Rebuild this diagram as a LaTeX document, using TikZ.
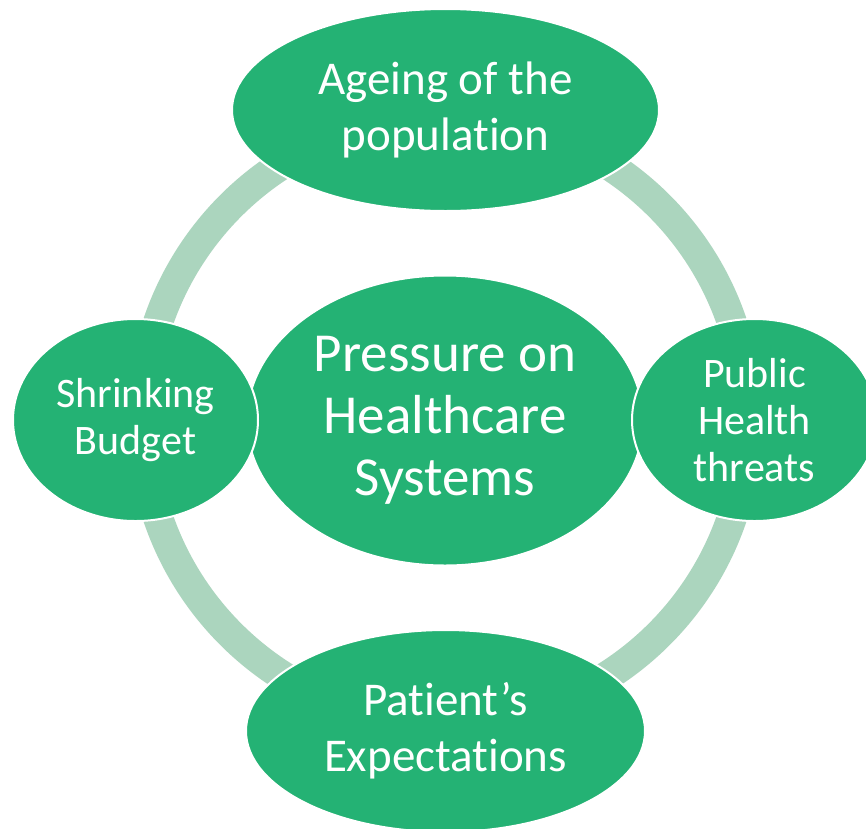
\documentclass[tikz,border=0pt]{standalone}
\usepackage{fontspec}
\setmainfont{Carlito}[Ligatures={NoCommon}]
\usetikzlibrary{shapes.geometric}
\definecolor{bubble}{HTML}{24B274}
\definecolor{ringc}{HTML}{ABD5BE}
\newcommand{\tiK}{t\kern0pt i}
\tikzset{
  bubblenode/.style={ellipse, fill=bubble, draw=white, line width=2pt, inner sep=0pt,
    text=white, align=center},
  bigtext/.style={font=\fontsize{55}{62}\selectfont},
  midtext/.style={font=\fontsize{47}{56}\selectfont},
  smalltext/.style={font=\fontsize{42}{47}\selectfont},
}
\begin{document}
\begin{tikzpicture}[x=1pt,y=-1pt]
\clip (0,0) rectangle (866,828);
\fill[white] (0,0) rectangle (866,828);
\coordinate (ringcenter) at (445,420);
\draw[ringc, line width=30pt] (ringcenter) circle[radius=303];
\node[bubblenode, bigtext, minimum width=396pt, minimum height=290pt] (center) at (445,420.5)
  {Pressure on\\Healthcare\\Systems};
\node[bubblenode, midtext, minimum width=427pt, minimum height=202pt] (top) at (445.5,110)
  {Ageing of the\\popula\tiK on};
\node[bubblenode, midtext, minimum width=399pt, minimum height=202pt] (bottom) at (445.5,731)
  {Pa\tiK ent’s\\Expecta\tiK ons};
\node[bubblenode, smalltext, minimum width=245pt, minimum height=202pt] (left) at (135.5,420)
  {Shrinking\\Budget};
\node[bubblenode, smalltext, minimum width=245pt, minimum height=202pt] (right) at (754.5,420)
  {Public\\Health\\threats};
\end{tikzpicture}
\end{document}
